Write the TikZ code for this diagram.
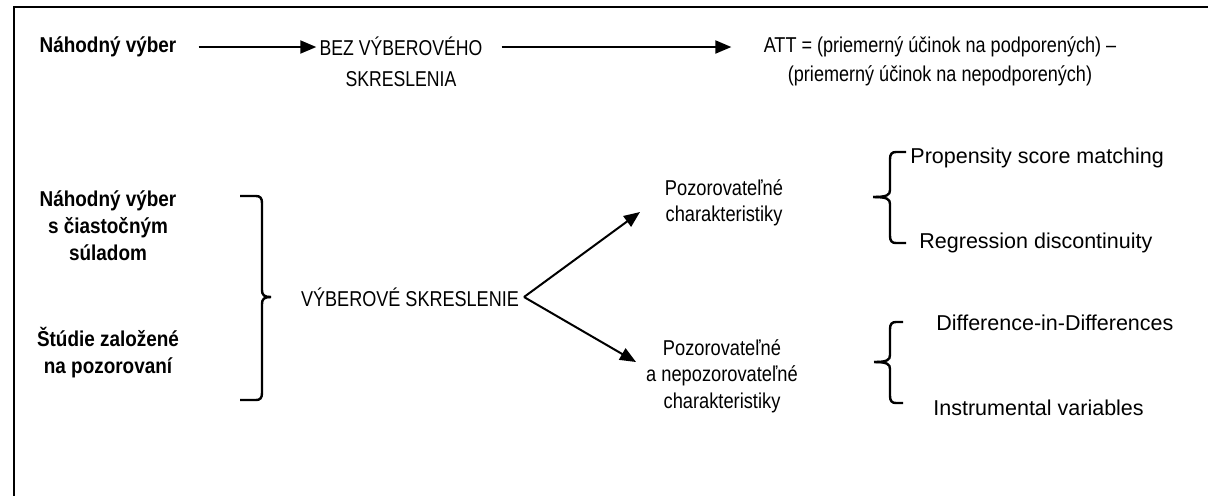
\documentclass[tikz,border=0pt]{standalone}
\usepackage{fontspec}
\setmainfont{Liberation Sans}
\newfontfamily\fbez{Liberation Sans}[FakeStretch=0.82]
\newfontfamily\fatt{Liberation Sans}[FakeStretch=0.84]
\newfontfamily\fvs{Liberation Sans}[FakeStretch=0.84]
\newfontfamily\fpoz{Liberation Sans}[FakeStretch=0.85]
\newfontfamily\fbold{Liberation Sans}[FakeStretch=0.88]
\usetikzlibrary{arrows.meta}
\begin{document}
\begin{tikzpicture}[x=0.5pt,y=-0.5pt,
  t/.style={inner sep=0pt, align=center, font=\fbez\fontsize{10.75pt}{15.5pt}\selectfont},
  tatt/.style={inner sep=0pt, align=center, font=\fatt\fontsize{10.75pt}{14.5pt}\selectfont},
  tvs/.style={inner sep=0pt, font=\fvs\fontsize{10.75pt}{12pt}\selectfont},
  tm/.style={inner sep=0pt, align=center, font=\fpoz\fontsize{10.75pt}{13.25pt}\selectfont},
  tr/.style={inner sep=0pt, anchor=west, font=\fontsize{10.75pt}{13pt}\selectfont},
  tb/.style={inner sep=0pt, align=center, font=\fbold\fontsize{10.75pt}{13.5pt}\selectfont\bfseries},
  arr/.style={line width=1pt, -{Triangle[length=8pt,width=6.5pt]}},
  brc/.style={line width=1.2pt},
  frame/.style={line width=1pt}]
\useasboundingbox (0,0) rectangle (1208,495);
\draw[frame] (1210,7) -- (14,7) -- (14,497);
% row 1
\node[tb] (n1) at (108,47) {Náhodný výber};
\node[t] (bez) at (401,62) {BEZ VÝBEROVÉHO\\SKRESLENIA};
\node[tatt] (att) at (940,61) {ATT = (priemerný účinok na podporených) –\\(priemerný účinok na nepodporených)};
\draw[arr, shorten <=11pt, shorten >=1.5pt] (n1.east) -- (n1.east -| bez.west);
\draw[arr, shorten <=9.5pt, shorten >=16pt] (bez.east |- n1.east) -- (n1.east -| att.west);
% left group
\node[tb] (g1) at (108,226) {Náhodný výber\\s čiastočným\\súladom};
\node[tb] (g2) at (108,353) {Štúdie založené\\na pozorovaní};
\draw[brc] (240,196) -- (256,196) .. controls (260,196) and (262,198) .. (262,203) -- (262,290) .. controls (262,295) and (264,297) .. (271,297);
\draw[brc] (240,400) -- (256,400) .. controls (260,400) and (262,398) .. (262,393) -- (262,304) .. controls (262,299) and (264,297) .. (271,297);
\node[tvs] (vs) at (410,297) {VÝBEROVÉ SKRESLENIE};
\coordinate (v) at (524,297);
\coordinate (tip1) at (640,212);
\coordinate (tip2) at (636,362);
\draw[arr] (v) -- (tip1);
\draw[arr] (v) -- (tip2);
% middle groups
\node[tm] (p1) at (724,203) {Pozorovateľné\\charakteristiky};
\node[tm] (p2) at (722,376) {Pozorovateľné\\a nepozorovateľné\\charakteristiky};
% brace 2
\draw[brc] (906,152) -- (896,152) .. controls (892,152) and (890,154) .. (890,159) -- (890,190) .. controls (890,195) and (887,197) .. (873,197);
\draw[brc] (906,243) -- (896,243) .. controls (892,243) and (890,241) .. (890,236) -- (890,204) .. controls (890,199) and (887,197) .. (873,197);
% brace 3
\draw[brc] (903,322) -- (896,322) .. controls (892,322) and (890,324) .. (890,329) -- (890,355) .. controls (890,360) and (887,362) .. (874,362);
\draw[brc] (903,403) -- (896,403) .. controls (892,403) and (890,401) .. (890,396) -- (890,369) .. controls (890,364) and (887,362) .. (874,362);
% right texts
\node[tr] (m1) at (910,158) {Propensity score matching};
\node[tr] (m2) at (919,243) {Regression discontinuity};
\node[tr] (m3) at (936,323) {Difference-in-Differences};
\node[tr] (m4) at (933,408) {Instrumental variables};
\end{tikzpicture}
\end{document}
